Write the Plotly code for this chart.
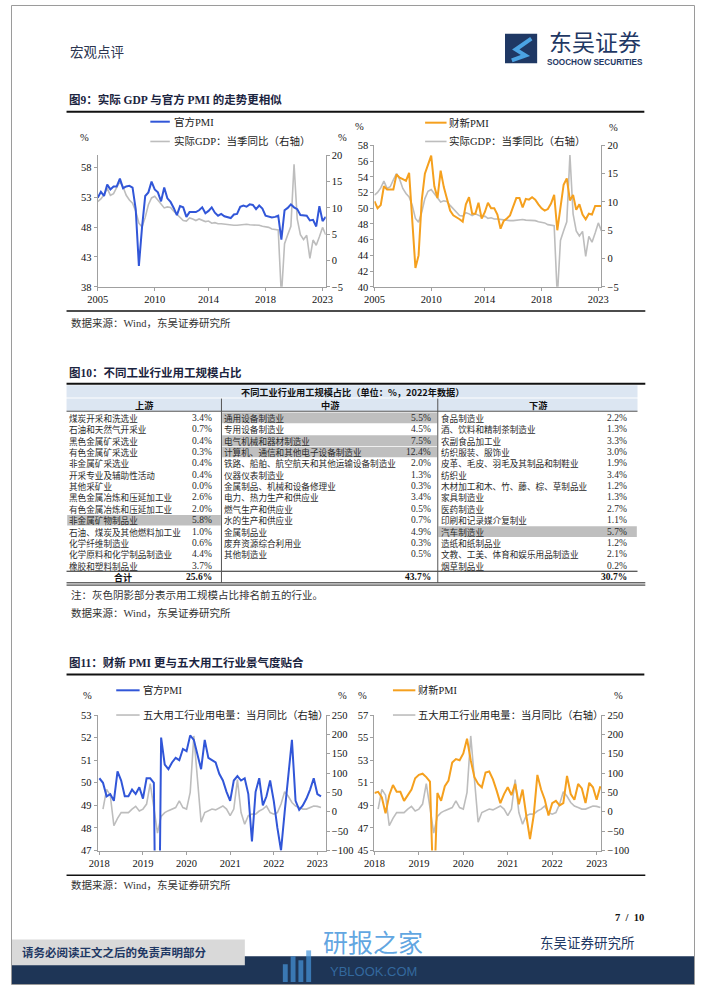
import plotly.graph_objects as go

W, H = 702, 991
def X(px): return px / W
def Y(py): return 1 - py / H

SERIF = "Liberation Serif, Noto Sans CJK SC, serif"
CJK = "Noto Sans CJK SC, sans-serif"
BLUE = "#3156D8"
ORANGE = "#F5A01E"
GRAY = "#BDBDBD"
AXC = "#A0A0A0"
NAVY = "#1F3864"

# ---------------- Figure 9 data: quarterly ----------------
quarters = [f"{y}Q{q}" for y in range(2005, 2024) for q in range(1, 5)][2:75]  # 2005Q3..2023Q3
official_pmi_q = [52.9, 53.9,
                  53.2, 55.1, 54.3, 54.8,
                  54.8, 56.1, 54.5, 54.8,
                  54.9, 54.6, 51.0, 41.5,
                  48.0, 53.2, 53.8, 55.6,
                  54.3, 53.8, 52.3, 54.6,
                  52.8, 52.2, 51.2, 50.0,
                  51.5, 51.3, 49.7, 50.5,
                  50.5, 50.5, 50.8, 51.3,
                  50.3, 50.7, 51.3, 50.4,
                  49.9, 50.2, 49.8, 49.7,
                  49.5, 50.1, 50.2, 51.4,
                  51.6, 51.4, 51.8, 51.7,
                  51.0, 51.6, 51.1, 49.9,
                  49.7, 49.6, 49.7, 49.9,
                  45.9, 50.8, 51.2, 51.8,
                  51.3, 51.0, 50.0, 49.9,
                  49.9, 49.1, 49.2, 48.1,
                  51.5, 49.0, 49.7]
caixin_pmi_q = [50.9, 50.0,
                50.4, 52.8, 52.4, 52.4,
                52.4, 54.3, 53.9, 53.7,
                53.5, 54.5, 48.5, 42.4,
                44.0, 51.0, 54.4, 55.7,
                56.7, 52.8, 51.3, 54.8,
                52.7, 51.2, 49.7, 49.1,
                48.9, 48.6, 48.3, 50.5,
                51.4, 49.3, 49.3, 50.7,
                48.7, 49.5, 50.7, 50.0,
                50.0, 49.2, 47.4, 48.4,
                48.7, 49.1, 50.2, 51.3,
                51.3, 50.1, 51.2, 51.1,
                51.4, 51.1, 50.5, 50.0,
                49.7, 49.9, 50.6, 51.7,
                47.2, 50.4, 53.0, 53.8,
                51.0, 51.7, 49.8, 50.5,
                49.2, 48.6, 49.3, 49.2,
                50.3, 50.3, 50.3]
gdp_yoy_q = [11.2, 11.7,
             12.5, 13.7, 12.4, 12.7,
             13.9, 15.0, 14.0, 12.4,
             11.5, 10.9, 9.4, 7.1,
             6.4, 8.2, 10.6, 11.9,
             12.2, 11.4, 10.8, 10.0,
             10.2, 10.1, 9.4, 8.8,
             8.1, 7.6, 7.5, 8.1,
             7.9, 7.6, 7.9, 7.7,
             7.4, 7.5, 7.1, 7.2,
             7.0, 7.0, 6.9, 6.8,
             6.7, 6.7, 6.7, 6.8,
             6.9, 6.9, 6.8, 6.8,
             6.8, 6.7, 6.5, 6.4,
             6.3, 6.0, 5.9, 5.8,
             -6.8, 3.2, 4.9, 6.5,
             18.3, 7.9, 4.9, 4.0,
             4.8, 0.4, 3.9, 2.9,
             4.5, 6.3, 4.9]
q_tickvals = ["2005Q3", "2010Q1", "2014Q2", "2018Q4", "2023Q2"]
q_ticktext = ["2005", "2010", "2014", "2018", "2023"]

# ---------------- Figure 11 data: monthly ----------------
months = [f"{y}-{m:02d}" for y in range(2018, 2024) for m in range(1, 13)][9:71]  # 2018-10..2023-11
official_pmi_m = [50.2, 50.0, 49.4,
                  49.5, 49.2, 50.5, 50.1, 49.4, 49.4, 49.7, 49.5, 49.8, 49.3, 50.2, 50.2,
                  50.0, 35.7, 52.0, 50.8, 50.6, 50.9, 51.1, 51.0, 51.5, 51.4, 52.1, 51.9,
                  51.3, 50.6, 51.9, 51.1, 51.0, 50.9, 50.4, 50.1, 49.6, 49.2, 50.1, 50.3,
                  50.1, 50.2, 49.5, 47.4, 49.6, 50.2, 49.0, 49.4, 50.1, 49.2, 48.0, 47.0,
                  48.7, 50.3, 51.9, 49.2, 48.8, 49.0, 49.3, 49.7, 50.2, 49.5, 49.4]
caixin_pmi_m = [50.1, 50.2, 49.7,
                48.3, 49.9, 50.8, 50.2, 50.2, 49.4, 49.9, 50.4, 51.4, 51.7, 51.8, 51.5,
                51.1, 40.3, 50.1, 49.4, 50.7, 51.2, 52.8, 53.1, 53.0, 53.6, 54.9, 53.0,
                51.5, 50.9, 50.6, 51.9, 52.0, 51.3, 50.3, 49.2, 50.0, 50.6, 49.9, 50.9,
                49.1, 50.4, 48.1, 46.0, 48.1, 51.7, 50.4, 49.5, 48.1, 49.2, 49.4, 49.0,
                49.2, 51.6, 50.0, 49.5, 50.9, 50.5, 49.2, 51.0, 50.6, 49.5, 50.7]
power_yoy_m = [None, 7, 58,
               43, -36, -17, -2, -2, -2, 7, 14, 2, 7, 20, 73,
               11, -55, -12, -2, 3, 7, 11, 28, 11, 7, 50, 196,
               80, -27, -2, 3, 7, 5, 11, 15, 7, -10, 7, 83,
               -2, -32, -10, -6, -6, 2, 7, 15, -2, -6, -2, 20,
               52, 40, 24, 15, 11, 7, 7, 11, 15, 14, 11]
m_tickvals = ["2018-10", "2019-10", "2020-10", "2021-10", "2022-10", "2023-10"]
m_ticktext = ["2018", "2019", "2020", "2021", "2022", "2023"]

# ---------------- Figure 10 table data ----------------
up_names = ["煤炭开采和洗选业", "石油和天然气开采业", "黑色金属矿采选业", "有色金属矿采选业",
            "非金属矿采选业", "开采专业及辅助性活动", "其他采矿业", "黑色金属冶炼和压延加工业",
            "有色金属冶炼和压延加工业", "非金属矿物制品业", "石油、煤炭及其他燃料加工业",
            "化学纤维制造业", "化学原料和化学制品制造业", "橡胶和塑料制品业"]
up_vals = [3.4, 0.7, 0.4, 0.3, 0.4, 0.4, 0.0, 2.6, 2.0, 5.8, 1.0, 0.6, 4.4, 3.7]
mid_names = ["通用设备制造业", "专用设备制造业", "电气机械和器材制造业",
             "计算机、通信和其他电子设备制造业", "铁路、船舶、航空航天和其他运输设备制造业",
             "仪器仪表制造业", "金属制品、机械和设备修理业", "电力、热力生产和供应业",
             "燃气生产和供应业", "水的生产和供应业", "金属制品业", "废弃资源综合利用业", "其他制造业"]
mid_vals = [5.5, 4.5, 7.5, 12.4, 2.0, 1.3, 0.3, 3.4, 0.5, 0.7, 4.9, 0.3, 0.5]
down_names = ["食品制造业", "酒、饮料和精制茶制造业", "农副食品加工业", "纺织服装、服饰业",
              "皮革、毛皮、羽毛及其制品和制鞋业", "纺织业", "木材加工和木、竹、藤、棕、草制品业",
              "家具制造业", "医药制造业", "印刷和记录媒介复制业", "汽车制造业", "造纸和纸制品业",
              "文教、工美、体育和娱乐用品制造业", "烟草制品业"]
down_vals = [2.2, 1.3, 3.3, 3.0, 1.9, 3.4, 1.2, 1.3, 2.7, 1.1, 5.7, 1.2, 2.1, 0.2]
group_names = ["上游", "中游", "下游"]
group_totals = [25.6, 43.7, 30.7]

fig = go.Figure()

# ---------------- traces ----------------
fig.add_trace(go.Scatter(x=quarters, y=official_pmi_q, name="官方PMI", mode="lines",
                         line=dict(color=BLUE, width=2), xaxis="x", yaxis="y2"))
fig.add_trace(go.Scatter(x=quarters, y=gdp_yoy_q, name="实际GDP：当季同比（右轴）", mode="lines",
                         line=dict(color=GRAY, width=1.6), xaxis="x", yaxis="y"))
fig.add_trace(go.Scatter(x=quarters, y=caixin_pmi_q, name="财新PMI", mode="lines",
                         line=dict(color=ORANGE, width=2), xaxis="x2", yaxis="y4"))
fig.add_trace(go.Scatter(x=quarters, y=gdp_yoy_q, name="实际GDP：当季同比（右轴）", mode="lines",
                         line=dict(color=GRAY, width=1.6), xaxis="x2", yaxis="y3"))
fig.add_trace(go.Scatter(x=months, y=official_pmi_m, name="官方PMI", mode="lines",
                         line=dict(color=BLUE, width=2), xaxis="x3", yaxis="y6"))
fig.add_trace(go.Scatter(x=months, y=power_yoy_m, name="五大用工行业用电量：当月同比（右轴）", mode="lines",
                         line=dict(color=GRAY, width=1.6), xaxis="x3", yaxis="y5"))
fig.add_trace(go.Scatter(x=months, y=caixin_pmi_m, name="财新PMI", mode="lines",
                         line=dict(color=ORANGE, width=2), xaxis="x4", yaxis="y8"))
fig.add_trace(go.Scatter(x=months, y=power_yoy_m, name="五大用工行业用电量：当月同比（右轴）", mode="lines",
                         line=dict(color=GRAY, width=1.6), xaxis="x4", yaxis="y7"))

# ---------------- axes ----------------
tickfont = dict(family=SERIF, size=10.5, color="#111")
charts = [
    ((89, 323), (152, 285), [0, 72], q_tickvals, q_ticktext, [38, 60], [38, 43, 48, 53, 58], [-5, 20], [-5, 0, 5, 10, 15, 20]),
    ((373, 606), (142, 285), [0, 72], q_tickvals, q_ticktext, [40, 58], list(range(40, 59, 2)), [-5, 20], [-5, 0, 5, 10, 15, 20]),
    ((89, 323), (718, 855), [-0.45, 62.3], m_tickvals, m_ticktext, [47, 53], list(range(47, 54)), [-100, 250], list(range(-100, 251, 50))),
    ((373, 606), (718, 855), [0, 61.3], m_tickvals, m_ticktext, [45, 57], list(range(45, 58, 2)), [-100, 250], list(range(-100, 251, 50))),
]
axes = {}
for i, (xd, yd, xr, tv, tt, lr, lt, rr, rt) in enumerate(charts):
    xi, yr, yl = i + 1, 2 * i + 1, 2 * i + 2
    xname = "xaxis" if xi == 1 else f"xaxis{xi}"
    xref = "x" if xi == 1 else f"x{xi}"
    yrname = "yaxis" if yr == 1 else f"yaxis{yr}"
    yrref = "y" if yr == 1 else f"y{yr}"
    ylname = f"yaxis{yl}"
    common = dict(showline=True, linecolor=AXC, linewidth=1, ticks="outside", ticklen=3,
                  tickcolor=AXC, showgrid=False, zeroline=False, tickfont=tickfont, fixedrange=True)
    axes[xname] = dict(domain=[X(xd[0]), X(xd[1])], anchor=yrref, type="category", range=xr,
                       tickmode="array", tickvals=tv, ticktext=tt, **common)
    axes[yrname] = dict(domain=[Y(yd[1]), Y(yd[0])], anchor=xref, side="right", range=rr,
                        tickmode="array", tickvals=rt, **common)
    axes[ylname] = dict(overlaying=yrref, anchor=xref, side="left", range=lr,
                        tickmode="array", tickvals=lt, **common)

# ---------------- annotations & shapes ----------------
ann = []
shapes = []
def text(px, py, s, size=10.5, family=SERIF, color="#222", anchor="left", bold=False, pad=1):
    ann.append(dict(x=X(px), y=Y(py), xref="paper", yref="paper", text=(f"<b>{s}</b>" if bold else s),
                    showarrow=False, xanchor=anchor, yanchor="middle", borderpad=pad,
                    font=dict(family=family, size=size, color=color)))
def rect(x0, y0, x1, y1, fill, line=None, lw=0, layer="below"):
    shapes.append(dict(type="rect", xref="paper", yref="paper", x0=X(x0), x1=X(x1), y0=Y(y1), y1=Y(y0),
                       fillcolor=fill, line=dict(color=line or "rgba(0,0,0,0)", width=lw), layer=layer))
def hline(x0, x1, y, color="black", w=1):
    shapes.append(dict(type="line", xref="paper", yref="paper", x0=X(x0), x1=X(x1), y0=Y(y), y1=Y(y),
                       line=dict(color=color, width=w)))
def vline(x, y0, y1, color="black", w=1):
    shapes.append(dict(type="line", xref="paper", yref="paper", x0=X(x), x1=X(x), y0=Y(y0), y1=Y(y1),
                       line=dict(color=color, width=w)))

# legends (line sample + label), built from the traces
legend_specs = [
    ((0, 1), 143, 163, (118, 138), 166, 10.5),
    ((2, 3), 425, 447, (119, 138), 449, 10.5),
    ((4, 5), 108, 132, (693, 718), 134, 10.3),
    ((6, 7), 392, 415, (693, 718), 417, 10.3),
]
for idxs, lx0, lx1, ys, tx, fs in legend_specs:
    for ti, ly in zip(idxs, ys):
        tr = fig.data[ti]
        hline(lx0, lx1, ly, tr.line.color, 2 if tr.line.color != GRAY else 1.6)
        text(tx, ly, tr.name, size=fs, color="#222", pad=0)

# header
text(58, 47, "宏观点评", size=13.5, family=CJK, color="#2B3550")
text(599, 36, "东吴证券", size=23, family=CJK, color=NAVY, anchor="center", pad=0)
text(599, 58.5, "<b>SOOCHOW SECURITIES</b>", size=8.2, family="Liberation Sans, Arial", color=NAVY, anchor="center", pad=0)

# figure titles and sources
TITLE_C = "#1B2440"
text(57, 96, "图9：实际 GDP 与官方 PMI 的走势更相似", size=11.5, color=TITLE_C, bold=True)
text(60, 322, "数据来源：Wind，东吴证券研究所", size=10.5, color="#333")
text(57, 372, "图10：不同工业行业用工规模占比", size=11.5, color=TITLE_C, bold=True)
text(60, 597, "注：灰色阴影部分表示用工规模占比排名前五的行业。", size=10.5, color="#333")
text(60, 615, "数据来源：Wind，东吴证券研究所", size=10.5, color="#333")
text(57, 665, "图11：财新 PMI 更与五大用工行业景气度贴合", size=11.5, color=TITLE_C, bold=True)
text(60, 890, "数据来源：Wind，东吴证券研究所", size=10.5, color="#333")

# percent unit labels
for px, py in [(75, 134), (340, 134), (358, 123), (618, 124), (78, 698), (340, 698), (361, 698), (623, 698)]:
    text(px, py, "%", size=10.5, anchor="center")

# footer
text(9, 958, "<b>请务必阅读正文之后的免责声明部分</b>", size=11.5, family=CJK, color=NAVY)
text(592, 948, "东吴证券研究所", size=13.5, family=CJK, color=NAVY, anchor="center")
text(652, 923, "<b>7  /  10</b>", size=10.5, color="#111", anchor="right")
text(372, 947, "研报之家", size=25, family=CJK, color="rgba(70,150,220,0.85)", anchor="center", pad=0)
text(372, 977, "YBLOOK.COM", size=13, family="Liberation Sans, Arial", color="rgba(70,150,220,0.55)", anchor="center", pad=0)

# ---------------- table ----------------
TL, TR = 57, 643
DIV = [216, 438]
col_bounds = [(TL, DIV[0]), (DIV[0], DIV[1]), (DIV[1], TR)]
name_left = [59, 218, 440]
val_right = [207, 432, 633]
ROW0, ROWH = 417.5, 11.5
groups = [(up_names, up_vals), (mid_names, mid_vals), (down_names, down_vals)]
all_vals = sorted(up_vals + mid_vals + down_vals, reverse=True)
cutoff = all_vals[4]

HEAD_BG = "#DCE6F2"
rect(TL, 384.5, TR, 397, HEAD_BG)
rect(TL, 398, TR, 410.5, HEAD_BG)
text((TL + TR) / 2, 391, "不同工业行业用工规模占比（单位：%，2022年数据）", size=9.2, family=CJK,
     color="#111", anchor="center", bold=True, pad=0)
for c, g in enumerate(group_names):
    x0, x1 = col_bounds[c]
    text((x0 + x1) / 2, 404.5, g, size=9.2, family=CJK, color="#111", anchor="center", bold=True, pad=0)

for c, (names, vals) in enumerate(groups):
    x0, x1 = col_bounds[c]
    for r, (n, v) in enumerate(zip(names, vals)):
        cy = ROW0 + ROWH * r
        if v >= cutoff:
            rect(x0 + 0.7, cy - ROWH / 2 + 0.4, x1 - 0.7, cy + ROWH / 2 - 0.4, "#BFBFBF")
        text(name_left[c], cy, n, size=8.6, family=CJK, color="#2a2a2a", pad=0)
        text(val_right[c], cy, f"{v:.1f}%", size=9.5, color="#2a2a2a", anchor="right", pad=0)
    ty = ROW0 + ROWH * 14
    text(val_right[c], ty, f"{group_totals[c]:.1f}%", size=9.5, color="#111", anchor="right", bold=True, pad=0)
text(115, ROW0 + ROWH * 14, "合计", size=9, family=CJK, color="#111", anchor="center", bold=True, pad=0)

hline(TL, 651, 383, "#111", 2)
hline(TL, TR, 410.8, "#555", 1)
hline(TL, TR, 572.6, "#222", 1)
hline(TL, 651, 584.3, "#222", 1)
hline(TL, 651, 586.6, "#222", 1)
for d in DIV:
    vline(d, 398, 584.3, "#555", 1)

# figure rules
hline(57, 650, 108, "#111", 2)
hline(57, 651, 309.5, "#111", 1.5)
hline(57, 650, 677, "#111", 2)
hline(57, 651, 880, "#111", 1.5)

# logo icon
rect(507, 29, 540, 59, NAVY)
shapes.append(dict(type="path", xref="paper", yref="paper",
                   path=f"M {X(534)},{Y(34)} L {X(518)},{Y(45)} L {X(528)},{Y(51)} L {X(514)},{Y(56)}",
                   line=dict(color="#4BA3E3", width=4)))

# footer blocks
rect(0, 962, 702, 990, "#1E3556")
rect(0, 945, 240, 971, "#D9D9D9")
for bx, bh in [(279, 18), (287, 26), (295, 22), (303, 32)]:
    rect(bx, 988 - bh, bx + 5, 988, "rgba(70,150,220,0.7)", layer="above")

# page border
rect(0.5, 0.5, 701.5, 990.5, "rgba(0,0,0,0)", "#9A9A9A", 1, layer="above")

fig.update_layout(width=W, height=H, margin=dict(l=0, r=0, t=0, b=0, pad=0),
                  paper_bgcolor="white", plot_bgcolor="rgba(0,0,0,0)",
                  showlegend=False, annotations=ann, shapes=shapes, **axes)

fig.write_html("out.html", post_script="document.body.style.margin='0px';")
